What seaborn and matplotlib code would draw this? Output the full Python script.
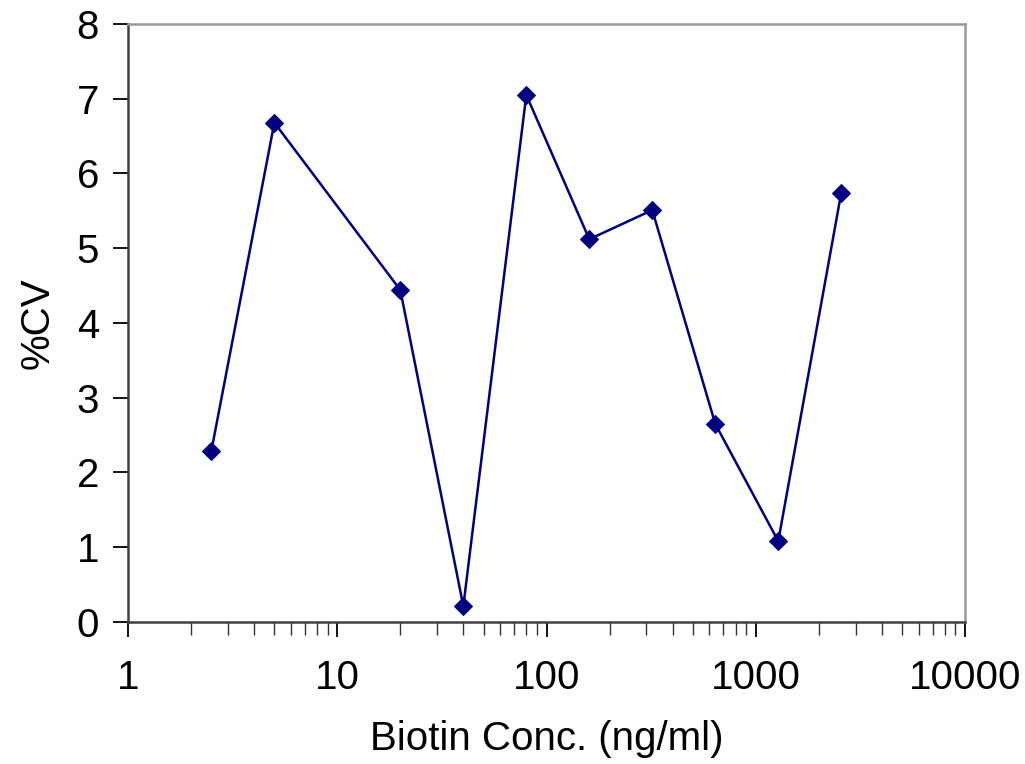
import numpy as np
import pandas as pd
import matplotlib
matplotlib.use("Agg")
import matplotlib.pyplot as plt
import seaborn as sns
from matplotlib.ticker import LogLocator, FixedLocator, FixedFormatter

# Data
conc = [2.5, 5, 20, 40, 80, 160, 320, 640, 1280, 2560]
cv = [2.29, 6.68, 4.44, 0.21, 7.05, 5.12, 5.51, 2.65, 1.08, 5.74]
x_ticks = [1, 10, 100, 1000, 10000]
x_labels = ["1", "10", "100", "1000", "10000"]
y_ticks = [0, 1, 2, 3, 4, 5, 6, 7, 8]

df = pd.DataFrame({"conc": conc, "cv": cv})

sns.set_style("white")
plt.rcParams["font.family"] = ["Liberation Sans", "DejaVu Sans"]
plt.rcParams["text.color"] = "black"
plt.rcParams["axes.labelcolor"] = "black"
plt.rcParams["xtick.color"] = "black"
plt.rcParams["ytick.color"] = "black"

fig = plt.figure(figsize=(10.25, 7.64), dpi=100)
ax = fig.add_axes([0.125, 0.186, 0.8165, 0.7826])

sns.lineplot(data=df, x="conc", y="cv", ax=ax, color="#000080", lw=1.8,
             marker="D", markersize=9, markeredgecolor="#000080", sort=False)

ax.set_xscale("log")
ax.set_xlim(1, 10000)
ax.set_ylim(0, 8)
ax.xaxis.set_major_locator(FixedLocator(x_ticks))
ax.xaxis.set_major_formatter(FixedFormatter(x_labels))
ax.xaxis.set_minor_locator(LogLocator(base=10, subs=np.arange(2, 10), numticks=20))
ax.xaxis.set_minor_formatter(plt.NullFormatter())
ax.set_yticks(y_ticks)

ax.tick_params(axis="both", which="major", direction="out", length=11, width=1.3,
               labelsize=29, pad=10)
ax.tick_params(axis="x", which="minor", direction="out", length=9, width=1.0, color="#333333")
ax.tick_params(axis="x", which="major", pad=16)
ax.tick_params(left=True, bottom=True, which="both")

for side in ["left", "bottom"]:
    ax.spines[side].set_color("#404040")
    ax.spines[side].set_linewidth(1.8)
for side in ["top", "right"]:
    ax.spines[side].set_color("#999999")
    ax.spines[side].set_linewidth(1.8)

ax.set_xlabel("Biotin Conc. (ng/ml)", fontsize=29, labelpad=16)
ax.set_ylabel("%CV", fontsize=29, labelpad=14)

fig.savefig("out.png", dpi=100)
